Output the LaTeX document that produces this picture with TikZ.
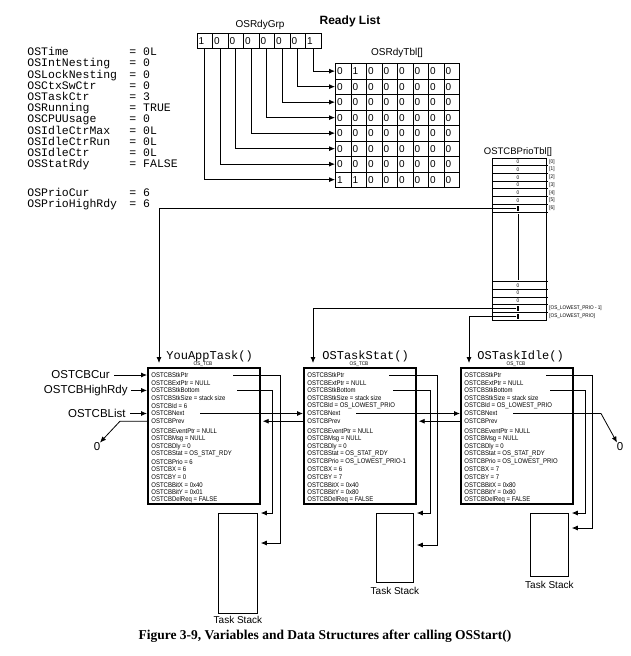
\documentclass[tikz,border=0pt]{standalone}
\usepackage{fontspec}
\setmainfont{Liberation Sans}
\newfontfamily\courier{Liberation Mono}
\newfontfamily\narrow[FakeStretch=0.88]{Liberation Sans}
\newfontfamily\capfont{Liberation Serif}
\usetikzlibrary{arrows.meta,positioning,calc}

\begin{document}
\begin{tikzpicture}[x=1pt, y=-1pt, line width=0.8pt,
    ptr/.style={-{Latex[length=6pt,width=5pt]}},
    varname/.style={anchor=base west, inner sep=0pt, font=\courier\fontsize{11.5}{12}\selectfont},
    cell/.style={draw, anchor=north west, minimum width=15.5pt, minimum height=15.5pt, inner sep=0pt,
      text width=12pt, align=left, font=\fontsize{10}{10}\selectfont},
    tbl/.style={inner sep=0pt, font=\fontsize{10}{10}\selectfont},
    field/.style={anchor=west, inner sep=0pt, font=\narrow\fontsize{6.8}{7}\selectfont},
    tcb/.style={draw, line width=2.2pt, anchor=north west, minimum width=112pt, minimum height=136pt, inner sep=0pt},
    fnname/.style={anchor=base west, inner sep=0pt, font=\courier\fontsize{12}{12}\selectfont},
    idx/.style={inner sep=0pt, font=\narrow\fontsize{5.3}{6}\selectfont},
    lbl/.style={anchor=east, inner sep=0pt, font=\fontsize{11.5}{12}\selectfont},
    stackbox/.style={draw, anchor=north west, inner sep=0pt},
    slot/.style={fill, inner sep=0pt, minimum width=2.5pt, minimum height=5pt}]

  \useasboundingbox (0,0) rectangle (631,656);

  % global variables
  \foreach \nm/\val [count=\i] in {OSTime/0L, OSIntNesting/0, OSLockNesting/0, OSCtxSwCtr/0,
      OSTaskCtr/3, OSRunning/TRUE, OSCPUUsage/0, OSIdleCtrMax/0L, OSIdleCtrRun/0L,
      OSIdleCtr/0L, OSStatRdy/FALSE} {
    \node[varname] (v\i) at (27,44.5+11.2*\i) {\nm};
    \node[varname] (e\i) at (129,44.5+11.2*\i) {= \val};
  }
  \node[varname] (v12) at (27,196) {OSPrioCur};
  \node[varname] (e12) at (129,196) {= 6};
  \node[varname] (v13) at (27,207.2) {OSPrioHighRdy};
  \node[varname] (e13) at (129,207.2) {= 6};

  % ready list
  \node[tbl] (grp) at (260,25) {OSRdyGrp};
  \node[inner sep=0pt, font=\bfseries\fontsize{12}{12}\selectfont] (rl) at (350,21) {Ready List};
  \foreach \b [count=\j from 0] in {1,0,0,0,0,0,0,1}
    \node[cell, minimum height=15pt] (g\j) at (196.5+15.5*\j,33) {\b};

  \node[tbl] (tbl) at (397,53) {OSRdyTbl[]};
  \foreach \row [count=\i from 0] in {{0,1,0,0,0,0,0,0},{0,0,0,0,0,0,0,0},{0,0,0,0,0,0,0,0},
      {0,0,0,0,0,0,0,0},{0,0,0,0,0,0,0,0},{0,0,0,0,0,0,0,0},{0,0,0,0,0,0,0,0},{1,1,0,0,0,0,0,0}}
    \foreach \b [count=\j from 0] in \row
      \node[cell] (t\i-\j) at (335+15.5*\j,63+15.5*\i) {\b};

  \foreach \j in {0,...,7} {
    \pgfmathtruncatemacro\r{7-\j}
    \draw[ptr] (g\j.south) |- (t\r-0.west);
  }

  % priority table
  \node[tbl, font=\fontsize{9.5}{10}\selectfont] (ptl) at (518,152) {OSTCBPrioTbl[]};
  \node[draw, anchor=north west, minimum width=54pt, minimum height=162pt, inner sep=0pt] (prio) at (492,158) {};
  \foreach \k in {1,...,7}
    \draw (492,158+7.7*\k) -- (548,158+7.7*\k);
  \foreach \k in {1,...,5}
    \draw (492,320-7.7*\k) -- (548,320-7.7*\k);
  \foreach \k in {0,...,5}
    \node[idx] (z\k) at (518,161.85+7.7*\k) {0};
  \foreach \k in {0,...,6}
    \node[idx, anchor=west] (i\k) at (549,161.85+7.7*\k) {[\k]};
  \foreach \k in {0,...,2}
    \node[idx] (zz\k) at (518,285.4+7.7*\k) {0};
  \node[slot] (p6) at (518,208) {};
  \node[slot] (pl1) at (518,308.5) {};
  \node[slot] (pl0) at (518,316.2) {};
  \node[idx, anchor=west] (il1) at (549,308.5) {[OS\_LOWEST\_PRIO - 1]};
  \node[idx, anchor=west] (il0) at (549,316.2) {[OS\_LOWEST\_PRIO]};
  \draw (518,214) -- (518,280);

  % task control blocks
  \coordinate (in1) at (159,363);
  \coordinate (in2) at (313,363);
  \coordinate (in3) at (469,363);
  \draw[ptr] (p6.west) -| (in1);
  \draw[ptr] (pl1.west) -| (in2);
  \draw[ptr] (pl0.west) -| (in3);

  \node[tcb] (tcb1) at (147,367) {};
  \node[tcb] (tcb2) at (303,367) {};
  \node[tcb] (tcb3) at (460,367) {};
  \node[fnname] (n1) at (166,359.5) {YouAppTask()};
  \node[fnname] (n2) at (322,359.5) {OSTaskStat()};
  \node[fnname] (n3) at (477,359.5) {OSTaskIdle()};
  \node[idx] (o1) at (203,364.5) {OS\_TCB};
  \node[idx] (o2) at (359,364.5) {OS\_TCB};
  \node[idx] (o3) at (516,364.5) {OS\_TCB};

  \foreach \f [count=\i] in {OSTCBStkPtr, OSTCBExtPtr = NULL, OSTCBStkBottom, OSTCBStkSize = stack size,
      OSTCBId = 6, OSTCBNext, OSTCBPrev, OSTCBEventPtr = NULL, OSTCBMsg = NULL, OSTCBDly = 0,
      OSTCBStat = OS\_STAT\_RDY, OSTCBPrio = 6, OSTCBX = 6, OSTCBY = 0, OSTCBBitX = 0x40,
      OSTCBBitY = 0x01, OSTCBDelReq = FALSE} {
    \pgfmathsetmacro\yy{367.3+7.7*\i+2*(\i>7)}
    \node[field] (a\i) at (151,\yy) {\f};
  }
  \foreach \f [count=\i] in {OSTCBStkPtr, OSTCBExtPtr = NULL, OSTCBStkBottom, OSTCBStkSize = stack size,
      OSTCBId = OS\_LOWEST\_PRIO, OSTCBNext, OSTCBPrev, OSTCBEventPtr = NULL, OSTCBMsg = NULL, OSTCBDly = 0,
      OSTCBStat = OS\_STAT\_RDY, OSTCBPrio = OS\_LOWEST\_PRIO-1, OSTCBX = 6, OSTCBY = 7, OSTCBBitX = 0x40,
      OSTCBBitY = 0x80, OSTCBDelReq = FALSE} {
    \pgfmathsetmacro\yy{367.3+7.7*\i+2*(\i>7)}
    \node[field] (b\i) at (307,\yy) {\f};
  }
  \foreach \f [count=\i] in {OSTCBStkPtr, OSTCBExtPtr = NULL, OSTCBStkBottom, OSTCBStkSize = stack size,
      OSTCBId = OS\_LOWEST\_PRIO, OSTCBNext, OSTCBPrev, OSTCBEventPtr = NULL, OSTCBMsg = NULL, OSTCBDly = 0,
      OSTCBStat = OS\_STAT\_RDY, OSTCBPrio = OS\_LOWEST\_PRIO, OSTCBX = 7, OSTCBY = 7, OSTCBBitX = 0x80,
      OSTCBBitY = 0x80, OSTCBDelReq = FALSE} {
    \pgfmathsetmacro\yy{367.3+7.7*\i+2*(\i>7)}
    \node[field] (c\i) at (464,\yy) {\f};
  }

  % pointers into the list
  \node[lbl] (cur) at ([xshift=-41pt]a1.west) {OSTCBCur};
  \node[lbl] (high) at ([xshift=-23pt]a3.west) {OSTCBHighRdy};
  \node[lbl] (list) at ([xshift=-25pt]a6.west) {OSTCBList};
  \draw[ptr] ([xshift=4pt]cur.east) -- (cur -| tcb1.west);
  \draw[ptr] ([xshift=3pt]high.east) -- (high -| tcb1.west);
  \draw[ptr] ([xshift=4pt]list.east) -- (list -| tcb1.west);

  \node[lbl, anchor=center] (zero1) at (97,447) {0};
  \node[lbl, anchor=center] (zero2) at (620,447) {0};
  \coordinate (bend1) at (120,421.2);
  \coordinate (bend3) at (601,413.5);

  \draw[ptr] ([xshift=49pt]a6.west) -- (tcb2.west |- a6);
  \draw[ptr] ([xshift=49pt]b6.west) -- (tcb3.west |- b6);
  \draw[ptr, shorten >=1.5pt] (tcb2.west |- b7) -- (tcb1.east |- b7);
  \draw[ptr, shorten >=1.5pt] (tcb3.west |- c7) -- (tcb2.east |- c7);
  \draw[ptr] (tcb1.west |- a7) -- (bend1) -- ([xshift=3pt]zero1.north);
  \draw[ptr] ([xshift=49pt]c6.west) -- (bend3) -- ([xshift=-3pt]zero2.north);

  % task stacks
  \node[stackbox, minimum width=39pt, minimum height=100pt] (stack1) at (218,513) {};
  \node[stackbox, minimum width=37pt, minimum height=69pt] (stack2) at (376,513) {};
  \node[stackbox, minimum width=38pt, minimum height=63pt] (stack3) at (530,513) {};
  \node[tbl, below=2pt of stack1] (s1) {Task Stack};
  \node[tbl, below=4pt of stack2] (s2) {Task Stack};
  \node[tbl, below=4pt of stack3] (s3) {Task Stack};

  \coordinate (k1) at (272,513);
  \coordinate (m1) at (280,543);
  \coordinate (k2) at (430,513);
  \coordinate (m2) at (437,545);
  \coordinate (k3) at (585,513);
  \coordinate (m3) at (592,528);
  \draw[ptr, shorten >=3pt] ([xshift=86pt]a3.west) -| (k1) -- (k1 -| stack1.east);
  \draw[ptr, shorten >=3pt] ([xshift=82pt]a1.west) -| (m1) -- (m1 -| stack1.east);
  \draw[ptr, shorten >=3pt] ([xshift=86pt]b3.west) -| (k2) -- (k2 -| stack2.east);
  \draw[ptr, shorten >=3pt] ([xshift=82pt]b1.west) -| (m2) -- (m2 -| stack2.east);
  \draw[ptr, shorten >=3pt] ([xshift=86pt]c3.west) -| (k3) -- (k3 -| stack3.east);
  \draw[ptr, shorten >=3pt] ([xshift=82pt]c1.west) -| (m3) -- (m3 -| stack3.east);

  \node[inner sep=0pt, font=\capfont\bfseries\fontsize{13.5}{14}\selectfont] (cap) at (325,636)
    {Figure 3-9, Variables and Data Structures after calling OSStart()};
\end{tikzpicture}
\end{document}
